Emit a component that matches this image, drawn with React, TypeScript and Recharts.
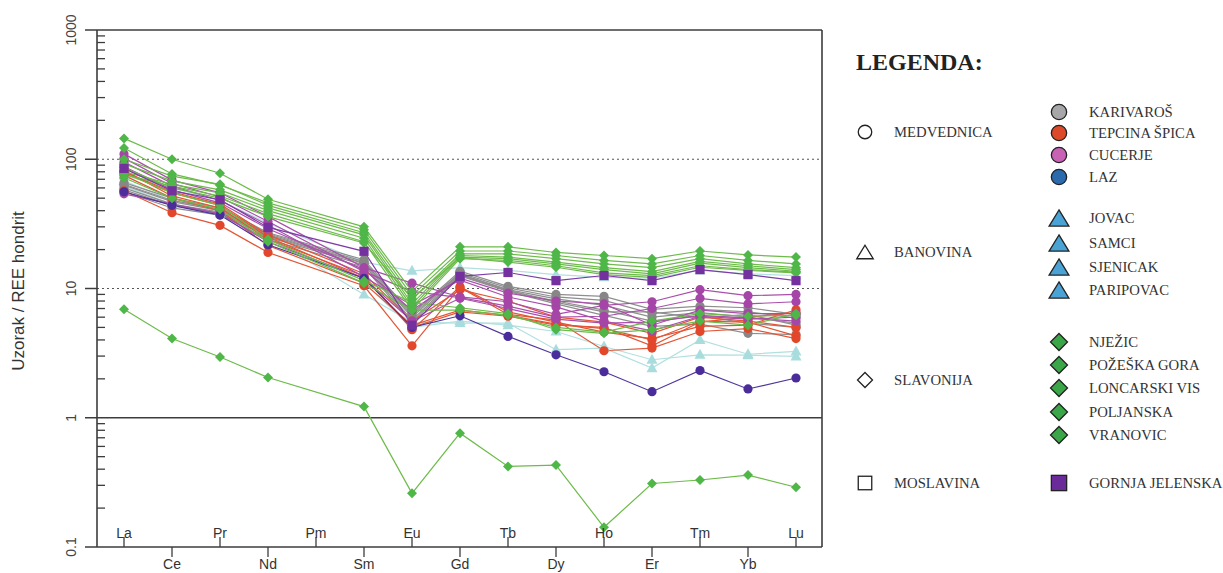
import React from 'react';
import { ComposedChart, Line, XAxis, YAxis, ReferenceLine } from 'recharts';

const elements = ['La', 'Ce', 'Pr', 'Nd', 'Pm', 'Sm', 'Eu', 'Gd', 'Tb', 'Dy', 'Ho', 'Er', 'Tm', 'Yb', 'Lu'];
const xTicks = [0, 1, 2, 3, 4, 5, 6, 7, 8, 9, 10, 11, 12, 13, 14];
const yTicks = [
  0.1, 0.2, 0.3, 0.4, 0.5, 0.6, 0.7, 0.8, 0.9,
  1, 2, 3, 4, 5, 6, 7, 8, 9,
  10, 20, 30, 40, 50, 60, 70, 80, 90,
  100, 200, 300, 400, 500, 600, 700, 800, 900,
  1000,
];

// chondrite-normalised REE, one row per sample (Pm not analysed)
const karivaros = [
  [66, 50, 42, 27, null, 16.7, 6.4, 13.6, 10.4, 9.0, 8.7, 6.9, 7.3, 7.1, 6.3],
  [63, 47, 40, 26.5, null, 16.2, 6.2, 13.2, 10.1, 8.6, 8.1, 6.4, 6.9, 6.6, 5.9],
  [60, 45, 39, 25.5, null, 15.6, 6.0, 12.9, 9.8, 8.3, 7.4, 6.0, 6.5, 6.0, 5.4],
  [58, 44, 38, 25, null, 15.2, 5.7, 12.7, 9.6, 8.0, 6.8, 5.6, 6.1, 5.4, 5.0],
  [56, 42, 37, 24, null, 14.6, 5.5, 12.5, 9.5, 7.6, 6.2, 5.1, 5.3, 4.5, 4.4],
  [64, 48, 41, 26, null, 15.8, 6.5, 12.9, 9.7, 7.8, 6.6, 6.6, 5.9, 6.3, 5.2],
];
const tepcinaSpica = [
  [57, 38.6, 30.8, 19, null, 10.5, 3.6, 10.2, 6.3, 5.7, 3.3, 3.46, 4.65, 4.9, 4.1],
  [82, 52, 42, 24, null, 12.5, 4.8, 10.3, 6.6, 5.5, 4.6, 4.1, 5.1, 5.2, 6.85],
  [79, 55, 44, 25, null, 12, 5.0, 6.6, 6.1, 5.2, 5.0, 3.6, 5.5, 6.0, 6.5],
  [75, 50, 40, 21.5, null, 11, 5.2, 6.8, 6.2, 5.3, 4.9, 4.0, 5.6, 5.5, 4.3],
  [80, 56, 45, 26, null, 13, 5.6, 9.8, 8.0, 6.0, 5.5, 4.5, 6.0, 5.6, 5.0],
];
const cucerje = [
  [110, 69, 55, 36, null, 14.5, 11.0, 8.6, 7.9, 6.3, 7.4, 7.9, 9.8, 8.8, 9.0],
  [102, 65, 51, 33, null, 13.5, 9.5, 8.5, 7.3, 6.0, 6.1, 7.0, 8.4, 7.6, 7.9],
  [95, 62, 48, 31, null, 12.3, 7.4, 11.6, 8.6, 7.2, 5.6, 4.7, 6.1, 5.8, 6.0],
  [88, 58, 46, 29, null, 14.0, 6.8, 12.0, 9.2, 8.0, 7.6, 5.2, 6.8, 6.4, 6.4],
  [54, 45, 38, 23, null, 12, 5.6, 8.4, 7.0, 5.8, 5.4, 5.5, 6.2, 5.9, 5.6],
];
const laz = [
  [56, 44, 37, 21.8, null, 12, 5.0, 6.15, 4.26, 3.07, 2.27, 1.59, 2.32, 1.67, 2.03],
];
const banovina = [
  [75, 60, 48, 32, null, 16, 13.7, 14.5, 13.8, 12.8, 12.2, 12, 13.8, 13, 12.6],
  [68, 48, 40, 25, null, 9.0, 5.5, 5.4, 5.4, 3.36, 3.46, 2.42, 4.0, 3.1, 3.26],
  [62, 45, 38, 24, null, 11, 5.0, 5.6, 5.2, 4.65, 3.56, 2.81, 3.07, 3.05, 2.98],
];
const slavonija = [
  [145, 100, 78, 49, null, 30, 9.5, 21, 21, 19, 18, 17, 19.5, 18.2, 17.5],
  [122, 77, 63, 46, null, 28.5, 8.8, 19.5, 19.5, 18, 16.5, 15.5, 18, 16.5, 15.5],
  [100, 74, 64, 44, null, 27, 8.2, 18.5, 18.5, 17, 15.5, 14.5, 17, 15.5, 14.5],
  [92, 68, 58, 42, null, 26, 7.6, 18, 17.5, 16, 14.5, 13.5, 16.2, 15, 14],
  [80, 64, 55, 40, null, 24.5, 7.2, 17.5, 17, 15.5, 14, 13, 15.7, 14.5, 13.6],
  [76, 62, 52, 38, null, 23, 6.8, 17, 16.5, 15, 13.2, 12.6, 15, 14, 13.4],
  [86, 60, 50, 36, null, 22.5, 8.4, 17.3, 16, 14.6, 12.8, 12.2, 14.6, 13.8, 13.2],
  [78, 55, 44, 24, null, 11.5, 7.8, 7.1, 6.4, 4.8, 4.5, 4.8, 5.6, 5.2, 6.4],
  [72, 50, 41, 23, null, 11, 6.8, 6.8, 6.2, 5.0, 4.6, 5.6, 6.4, 6.1, 6.2],
  [6.9, 4.1, 2.95, 2.05, null, 1.22, 0.26, 0.76, 0.42, 0.43, 0.142, 0.31, 0.33, 0.36, 0.29],
];
const gornjaJelenska = [
  [85, 57, 48.6, 29.7, null, 19.4, 5.2, 12.4, 13.3, 11.5, 12.6, 11.5, 14, 12.8, 11.5],
];

const groups = [
  { id: 'ban', rows: banovina, shape: 'triangle', fill: '#a9dddd', line: '#b2e0e0' },
  { id: 'kar', rows: karivaros, shape: 'circle', fill: '#878787', line: '#8e8e8e' },
  { id: 'tep', rows: tepcinaSpica, shape: 'circle', fill: '#e2472b', line: '#e35535' },
  { id: 'cuc', rows: cucerje, shape: 'circle', fill: '#a645a8', line: '#a94fab' },
  { id: 'laz', rows: laz, shape: 'circle', fill: '#4a2c9b', line: '#4f359c' },
  { id: 'sla', rows: slavonija, shape: 'diamond', fill: '#4fb748', line: '#6dbb4a' },
  { id: 'gj', rows: gornjaJelenska, shape: 'square', fill: '#7530a0', line: '#7d3ba5' },
];

const series = groups.flatMap((g) =>
  g.rows.map((values, k) => ({ key: `${g.id}${k}`, values, shape: g.shape, fill: g.fill, line: g.line }))
);

const data = elements.map((el, i) => {
  const row: any = { x: i, el };
  series.forEach((s) => {
    row[s.key] = s.values[i];
  });
  return row;
});

const AXIS = '#3d3d3d';
const SANS = '"Liberation Sans", Arial, sans-serif';
const SERIF = '"Liberation Serif", "Times New Roman", serif';

const makeDot = (shape: string, fill: string, id: string) => (props: any) => {
  const { cx, cy, index, value } = props;
  const k = `${id}-${index}`;
  if (value == null || cx == null || cy == null || isNaN(cy)) return <g key={k} />;
  if (shape === 'circle') return <circle key={k} cx={cx} cy={cy} r={4.6} fill={fill} />;
  if (shape === 'square') return <rect key={k} x={cx - 4.6} y={cy - 4.6} width={9.2} height={9.2} fill={fill} />;
  if (shape === 'diamond')
    return <polygon key={k} points={`${cx},${cy - 5} ${cx + 5},${cy} ${cx},${cy + 5} ${cx - 5},${cy}`} fill={fill} />;
  return <polygon key={k} points={`${cx},${cy - 6} ${cx + 5.5},${cy + 4} ${cx - 5.5},${cy + 4}`} fill={fill} />;
};

const YTick = (props: any) => {
  const { x, y, payload } = props;
  const v = payload.value;
  const lg = Math.log10(v);
  const major = Math.abs(lg - Math.round(lg)) < 1e-6;
  if (!major) return <line x1={x} x2={x + 8} y1={y} y2={y} stroke={AXIS} strokeWidth={1.3} />;
  return (
    <g>
      <line x1={x - 12} x2={x} y1={y} y2={y} stroke={AXIS} strokeWidth={1.5} />
      <text
        x={x - 26}
        y={y}
        transform={`rotate(-90, ${x - 26}, ${y})`}
        textAnchor="middle"
        dominantBaseline="central"
        fontFamily={SANS}
        fontSize={14}
        fill="#444"
      >
        {String(v)}
      </text>
    </g>
  );
};

const XTick = (props: any) => {
  const { x, y, payload } = props;
  const i = payload.value;
  const up = i % 2 === 0;
  return (
    <g>
      <line x1={x} x2={x} y1={y} y2={up ? y - 10 : y + 10} stroke={AXIS} strokeWidth={1.3} />
      <text x={x} y={up ? y - 9 : y + 22} textAnchor="middle" fontFamily={SANS} fontSize={14} fill="#333">
        {elements[i]}
      </text>
    </g>
  );
};

const groupItems = [
  { label: 'MEDVEDNICA', shape: 'circle', y: 132 },
  { label: 'BANOVINA', shape: 'triangle', y: 252 },
  { label: 'SLAVONIJA', shape: 'diamond', y: 380 },
  { label: 'MOSLAVINA', shape: 'square', y: 483 },
];
const localityItems = [
  { label: 'KARIVAROŠ', shape: 'circle', fill: '#a7a7a9', y: 112 },
  { label: 'TEPCINA ŠPICA', shape: 'circle', fill: '#dd4a2a', y: 133 },
  { label: 'CUCERJE', shape: 'circle', fill: '#c862b4', y: 155 },
  { label: 'LAZ', shape: 'circle', fill: '#2a6aad', y: 177 },
  { label: 'JOVAC', shape: 'triangle', fill: '#4aa3d4', y: 218 },
  { label: 'SAMCI', shape: 'triangle', fill: '#4aa3d4', y: 243 },
  { label: 'SJENICAK', shape: 'triangle', fill: '#4aa3d4', y: 267 },
  { label: 'PARIPOVAC', shape: 'triangle', fill: '#4aa3d4', y: 290 },
  { label: 'NJEŽIC', shape: 'diamond', fill: '#3aa648', y: 342 },
  { label: 'POŽEŠKA GORA', shape: 'diamond', fill: '#3aa648', y: 365 },
  { label: 'LONCARSKI VIS', shape: 'diamond', fill: '#3aa648', y: 388 },
  { label: 'POLJANSKA', shape: 'diamond', fill: '#3aa648', y: 412 },
  { label: 'VRANOVIC', shape: 'diamond', fill: '#3aa648', y: 435 },
  { label: 'GORNJA JELENSKA', shape: 'square', fill: '#6b2a9a', y: 483 },
];

const Symbol = ({ shape, x, y, s, fill }: any) => {
  const st = { fill, stroke: '#222', strokeWidth: 1.3 };
  if (shape === 'circle') return <circle cx={x} cy={y} r={s * 0.45} {...st} />;
  if (shape === 'square') return <rect x={x - s * 0.45} y={y - s * 0.45} width={s * 0.9} height={s * 0.9} {...st} />;
  if (shape === 'diamond')
    return <polygon points={`${x},${y - s / 2} ${x + s / 2},${y} ${x},${y + s / 2} ${x - s / 2},${y}`} {...st} />;
  return <polygon points={`${x},${y - s * 0.45} ${x + s * 0.55},${y + s * 0.45} ${x - s * 0.55},${y + s * 0.45}`} {...st} />;
};

const Overlay = () => (
  <svg width={1223} height={573} style={{ position: 'absolute', left: 0, top: 0, pointerEvents: 'none' }}>
    <text
      x={18}
      y={291}
      transform="rotate(-90, 18, 291)"
      textAnchor="middle"
      dominantBaseline="central"
      fontFamily={SANS}
      fontSize={17}
      fill="#333"
    >
      Uzorak / REE hondrit
    </text>
    <text x={856} y={70} fontFamily={SERIF} fontWeight="bold" fontSize={24} fill="#222">
      LEGENDA:
    </text>
    {groupItems.map((g) => (
      <g key={g.label}>
        <Symbol shape={g.shape} x={865} y={g.y} s={15} fill="#fff" />
        <text x={894} y={g.y + 5} fontFamily={SERIF} fontSize={14.7} fill="#333">
          {g.label}
        </text>
      </g>
    ))}
    {localityItems.map((g) => (
      <g key={g.label}>
        <Symbol shape={g.shape} x={1059} y={g.y} s={g.shape === 'triangle' ? 18 : 17} fill={g.fill} />
        <text x={1089} y={g.y + 5} fontFamily={SERIF} fontSize={14.7} fill="#333">
          {g.label}
        </text>
      </g>
    ))}
  </svg>
);

const App = () => {
  return (
    <div style={{ position: 'absolute', left: 0, top: 0, width: 1223, height: 573, background: '#fff' }}>
      <ComposedChart width={840} height={573} data={data} margin={{ top: 30, right: 18, bottom: 0, left: 37 }}>
        <XAxis
          type="number"
          dataKey="x"
          domain={[-0.5625, 14.5417]}
          ticks={xTicks}
          interval={0}
          allowDataOverflow
          tick={<XTick />}
          tickLine={false}
          tickSize={0}
          tickMargin={0}
          height={26}
          axisLine={{ stroke: AXIS, strokeWidth: 1.6 }}
        />
        <YAxis
          type="number"
          scale="log"
          domain={[0.1, 1000]}
          ticks={yTicks}
          interval={0}
          allowDataOverflow
          tick={<YTick />}
          tickLine={false}
          tickSize={0}
          tickMargin={0}
          width={60}
          axisLine={{ stroke: AXIS, strokeWidth: 1.6 }}
        />
        <ReferenceLine y={100} stroke="#555" strokeDasharray="2 3" strokeWidth={1.2} />
        <ReferenceLine y={10} stroke="#555" strokeDasharray="2 3" strokeWidth={1.2} />
        <ReferenceLine y={1} stroke={AXIS} strokeWidth={1.4} />
        <ReferenceLine y={1000} stroke={AXIS} strokeWidth={1.6} />
        <ReferenceLine x={14.5417} stroke={AXIS} strokeWidth={1.6} />
        {series.map((s) => (
          <Line
            key={s.key}
            dataKey={s.key}
            type="linear"
            stroke={s.line}
            strokeWidth={1.2}
            connectNulls
            dot={makeDot(s.shape, s.fill, s.key)}
            activeDot={false}
            isAnimationActive={false}
          />
        ))}
      </ComposedChart>
      <Overlay />
    </div>
  );
};

export default App;
